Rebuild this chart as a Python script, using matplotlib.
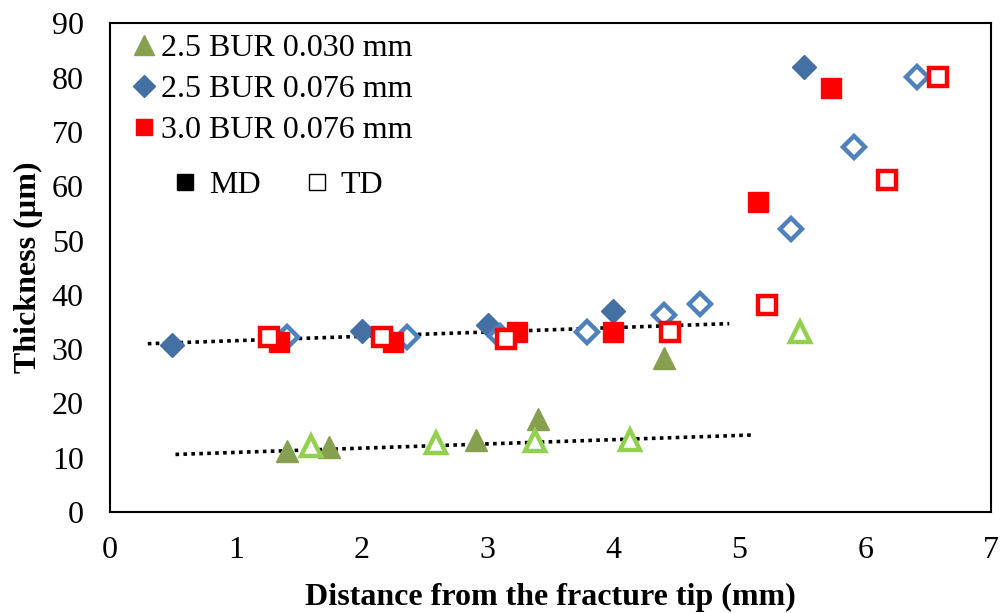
import matplotlib.pyplot as plt
from matplotlib.lines import Line2D

plt.rcParams['font.family'] = ['Liberation Serif', 'DejaVu Sans']

# 2.5 BUR 0.030 mm
g_md_x = [1.41, 1.74, 2.91, 3.40, 4.40]
g_md_y = [11.2, 12.0, 13.3, 17.2, 28.3]
g_td_x = [1.60, 2.59, 3.38, 4.13, 5.48]
g_td_y = [12.2, 12.8, 13.0, 13.3, 33.2]

# 2.5 BUR 0.076 mm
b_md_x = [0.49, 2.00, 3.00, 4.00, 5.51]
b_md_y = [30.8, 33.3, 34.5, 37.0, 82.0]
b_td_x = [1.41, 2.36, 3.10, 3.79, 4.40, 4.69, 5.41, 5.91, 6.41]
b_td_y = [32.3, 32.3, 32.5, 33.2, 36.3, 38.3, 52.2, 67.2, 80.1]

# 3.0 BUR 0.076 mm
r_md_x = [1.34, 2.25, 3.23, 4.00, 5.15, 5.73]
r_md_y = [31.3, 31.3, 33.2, 33.2, 57.2, 78.1]
r_td_x = [1.26, 2.16, 3.15, 4.45, 5.22, 6.17, 6.58]
r_td_y = [32.3, 32.3, 31.8, 33.2, 38.2, 61.2, 80.1]

# trend lines (end points)
trend_hi_x = [0.30, 4.92]
trend_hi_y = [31.0, 34.7]
trend_lo_x = [0.52, 5.12]
trend_lo_y = [10.6, 14.2]

green_dark = '#87a04f'
green_light = '#92d050'
blue_dark = '#4470a4'
blue_light = '#4f81bd'
red = '#ff0000'

fig = plt.figure(figsize=(10.04, 6.13), dpi=100)
ax = fig.add_axes([0.1096, 0.1648, 0.8775, 0.7969])

dots = (0, (1, 1.2))
ax.plot(trend_hi_x, trend_hi_y, color='black', lw=2.6, ls=dots, zorder=1)
ax.plot(trend_lo_x, trend_lo_y, color='black', lw=2.6, ls=dots, zorder=1)

ax.plot(g_md_x, g_md_y, ls='none', marker='^', ms=16, color=green_dark, mec=green_dark, zorder=3)
ax.plot(g_td_x, g_td_y, ls='none', marker='^', ms=14, mfc='white', mec=green_light, mew=3.2, zorder=3)
ax.plot(b_md_x, b_md_y, ls='none', marker='D', ms=12.5, color=blue_dark, mec=blue_dark, zorder=3)
ax.plot(b_td_x, b_td_y, ls='none', marker='D', ms=11.5, mfc='white', mec=blue_light, mew=3.2, zorder=3)
ax.plot(r_md_x, r_md_y, ls='none', marker='s', ms=14, color=red, mec=red, zorder=4)
ax.plot(r_td_x, r_td_y, ls='none', marker='s', ms=12.5, mfc='white', mec=red, mew=3.2, zorder=4)

ax.set_xlim(0, 7)
ax.set_ylim(0, 90)
ax.set_xticks(range(0, 8))
ax.set_yticks(range(0, 91, 10))
ax.tick_params(axis='x', length=0, labelsize=23, pad=17)
ax.tick_params(axis='y', length=0, labelsize=23, pad=19)
for s in ax.spines.values():
    s.set_linewidth(1.5)
ax.set_xlabel('Distance from the fracture tip (mm)', fontsize=23, fontweight='bold', labelpad=13)
ax.set_ylabel('Thickness (µm)', fontsize=23, fontweight='bold', labelpad=6)

h1 = [
    Line2D([], [], ls='none', marker='^', ms=14, color=green_dark),
    Line2D([], [], ls='none', marker='D', ms=11, color=blue_dark),
    Line2D([], [], ls='none', marker='s', ms=11, color=red),
]
leg1 = ax.legend(h1, ['2.5 BUR 0.030 mm', '2.5 BUR 0.076 mm', '3.0 BUR 0.076 mm'],
                 loc='upper left', bbox_to_anchor=(0.0, 1.025), frameon=False,
                 fontsize=23, handlelength=0.7, handletextpad=0.2,
                 labelspacing=0.36, borderaxespad=0.3)
ax.add_artist(leg1)

h2 = [
    Line2D([], [], ls='none', marker='s', ms=12, color='black'),
    Line2D([], [], ls='none', marker='s', ms=12, mfc='white', mec='black', mew=1),
]
ax.legend(h2, ['MD', 'TD'], loc='upper left', bbox_to_anchor=(0.04, 0.758),
          frameon=False, fontsize=23, ncol=2, handlelength=0.7,
          handletextpad=0.4, columnspacing=1.4)

fig.savefig('out.png', dpi=100)
